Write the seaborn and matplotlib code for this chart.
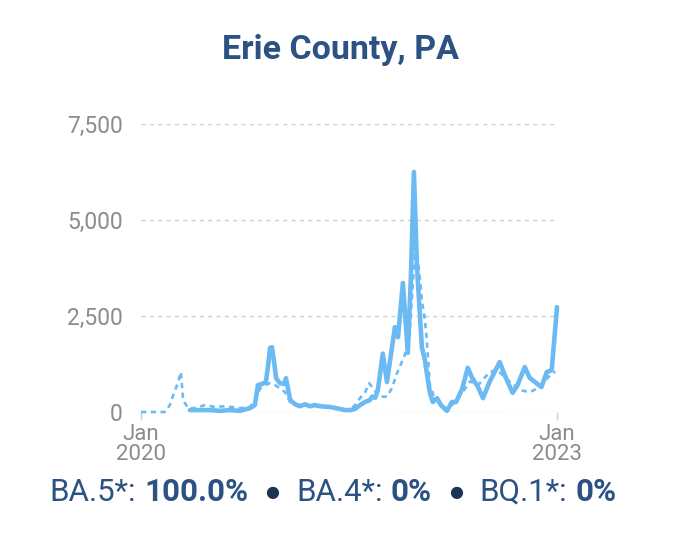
import matplotlib
matplotlib.use("Agg")
import matplotlib.pyplot as plt
from matplotlib.ticker import FuncFormatter
import seaborn as sns
import pandas as pd

# ---- data ----
solid_dates = ["2020-05-09", "2020-06-04", "2020-07-01", "2020-07-27", "2020-08-22",
               "2020-09-18", "2020-10-14", "2020-10-27", "2020-11-04", "2020-11-15",
               "2020-11-25", "2020-12-01", "2020-12-06", "2020-12-11", "2020-12-16",
               "2020-12-22", "2021-01-01", "2021-01-12", "2021-01-17", "2021-01-22",
               "2021-01-28", "2021-02-10", "2021-02-23", "2021-03-08", "2021-03-21",
               "2021-04-03", "2021-04-17", "2021-05-13", "2021-06-08", "2021-06-21",
               "2021-07-05", "2021-07-18", "2021-07-31", "2021-08-13", "2021-08-26",
               "2021-09-01", "2021-09-09", "2021-09-16", "2021-09-29", "2021-10-10",
               "2021-10-31", "2021-11-08", "2021-11-21", "2021-12-04", "2021-12-12",
               "2021-12-20", "2021-12-28", "2022-01-10", "2022-01-18", "2022-01-23",
               "2022-01-31", "2022-02-08", "2022-02-19", "2022-03-01", "2022-03-17",
               "2022-03-30", "2022-04-10", "2022-04-26", "2022-05-11", "2022-05-22",
               "2022-06-07", "2022-06-20", "2022-07-08", "2022-08-03", "2022-08-19",
               "2022-09-06", "2022-09-19", "2022-10-08", "2022-10-21", "2022-11-08",
               "2022-11-21", "2022-12-05", "2022-12-18", "2023-01-01"]
solid_values = [50, 50, 50, 30, 50,
                30, 100, 180, 700, 730,
                780, 1220, 1670, 1690, 1350,
                880, 750, 730, 880, 620,
                310, 200, 150, 200, 150,
                180, 150, 130, 80, 50,
                50, 80, 180, 260, 310,
                400, 370, 570, 1520, 780,
                2210, 1950, 3360, 1540, 3500,
                6250, 3800, 1690, 1350, 1020,
                500, 260, 360, 180, 30,
                260, 260, 600, 1150, 900,
                650, 360, 800, 1300, 900,
                500, 700, 1170, 890, 750,
                650, 1040, 1090, 2730]

dashed_dates = ["2020-01-01", "2020-01-25", "2020-02-20", "2020-03-04", "2020-03-17",
                "2020-03-28", "2020-04-07", "2020-04-15", "2020-04-21", "2020-05-04",
                "2020-05-22", "2020-06-18", "2020-07-14", "2020-08-09", "2020-09-18",
                "2020-10-14", "2020-10-27", "2020-11-10", "2020-11-23", "2020-12-06",
                "2020-12-19", "2021-01-01", "2021-01-14", "2021-01-28", "2021-02-23",
                "2021-04-17", "2021-06-08", "2021-07-05", "2021-07-18", "2021-07-31",
                "2021-08-13", "2021-08-24", "2021-09-09", "2021-09-22", "2021-10-10",
                "2021-10-23", "2021-11-05", "2021-11-26", "2021-12-09", "2021-12-20",
                "2021-12-25", "2021-12-30", "2022-01-05", "2022-01-10", "2022-01-18",
                "2022-01-23", "2022-01-31", "2022-02-13", "2022-03-01", "2022-03-17",
                "2022-04-07", "2022-04-26", "2022-05-17", "2022-06-07", "2022-06-25",
                "2022-07-08", "2022-07-27", "2022-08-17", "2022-09-04", "2022-09-25",
                "2022-10-21", "2022-11-08", "2022-11-29", "2022-12-18", "2022-12-28"]
dashed_values = [0, 0, 0, 0, 180,
                 500, 750, 1040, 310, 100,
                 100, 180, 130, 150, 100,
                 130, 300, 620, 700, 750,
                 700, 620, 520, 260, 180,
                 150, 80, 50, 180, 360,
                 500, 750, 550, 400, 400,
                 620, 1000, 1480, 2050, 3800,
                 4400, 4000, 3440, 2900, 2400,
                 1870, 700, 350, 200, 80,
                 250, 500, 800, 700, 900,
                 1040, 1100, 900, 750, 570,
                 520, 600, 800, 1000, 1050]

y_ticks = [0, 2500, 5000, 7500]
x_tick_dates = ["2020-01-01", "2023-01-01"]
x_tick_labels = ["Jan\n2020", "Jan\n2023"]
title_text = "Erie County, PA"
footer = [("BA.5*:", "100.0%"), ("BA.4*:", "0%"), ("BQ.1*:", "0%")]

# ---- style ----
sns.set_theme(style="white")
plt.rcParams['font.family'] = ['Roboto', 'DejaVu Sans']

LINE = "#6bbaf3"
GRID = "#cfcfcf"
TICK = "#8c8c8c"
NAVY = "#2b5283"
DOT = "#1c3352"

fig = plt.figure(figsize=(6.8, 5.51), dpi=100)
ax = fig.add_axes([141 / 680, 139 / 551, 416 / 680, 288 / 551])

sdf = pd.DataFrame({"date": pd.to_datetime(solid_dates), "value": solid_values})
ddf = pd.DataFrame({"date": pd.to_datetime(dashed_dates), "value": dashed_values})

sns.lineplot(data=ddf, x="date", y="value", ax=ax, color=LINE, linewidth=1.9,
             linestyle=(0, (2.0, 1.7)), clip_on=False, zorder=3)
sns.lineplot(data=sdf, x="date", y="value", ax=ax, color=LINE, linewidth=3.3,
             solid_joinstyle="round", solid_capstyle="round", clip_on=False, zorder=4)

ax.set_xlim(pd.Timestamp(x_tick_dates[0]), pd.Timestamp(x_tick_dates[1]))
ax.set_ylim(0, 7500)
ax.set_xlabel("")
ax.set_ylabel("")

for s in ax.spines.values():
    s.set_visible(False)

ax.set_yticks(y_ticks)
ax.yaxis.set_major_formatter(FuncFormatter(lambda v, p: f"{int(v):,}"))
ax.yaxis.grid(True, color=GRID, linestyle=(0, (3, 3)), linewidth=1.0)
ax.set_axisbelow(True)
ax.tick_params(axis="y", length=0, pad=13, labelsize=16.5, labelcolor=TICK)

ax.set_xticks(pd.to_datetime(x_tick_dates))
ax.set_xticklabels(x_tick_labels, linespacing=0.9)
ax.tick_params(axis="x", length=6, width=1, color="#d0d0d0", pad=3,
               labelsize=16, labelcolor=TICK, bottom=True)

fig.text(0.5, 0.909, title_text, ha="center", va="center", fontsize=24.5,
         fontweight="bold", color=NAVY)

# ---- footer, laid out piece by piece ----
fy = 0.107
pieces = []
for i, (lab, val) in enumerate(footer):
    if i > 0:
        pieces.append((fig.text(0, fy, "\u25CF", fontsize=11.5, color=DOT, va="center",
                                family=["DejaVu Sans"]), 17))
    pieces.append((fig.text(0, fy, lab, fontsize=22.5, color=NAVY, va="center"),
                   17 if i > 0 else 0))
    pieces.append((fig.text(0, fy, val, fontsize=22.5, color=NAVY, va="center",
                            fontweight="bold"), 8))

fig.canvas.draw()
r = fig.canvas.get_renderer()
W = fig.bbox.width
widths = [t.get_window_extent(r).width for t, _ in pieces]
total = sum(widths) + sum(g for _, g in pieces)
x = 333 - total / 2
for (t, g), w in zip(pieces, widths):
    x += g
    t.set_x(x / W)
    x += w

fig.savefig("out.png", dpi=100)
